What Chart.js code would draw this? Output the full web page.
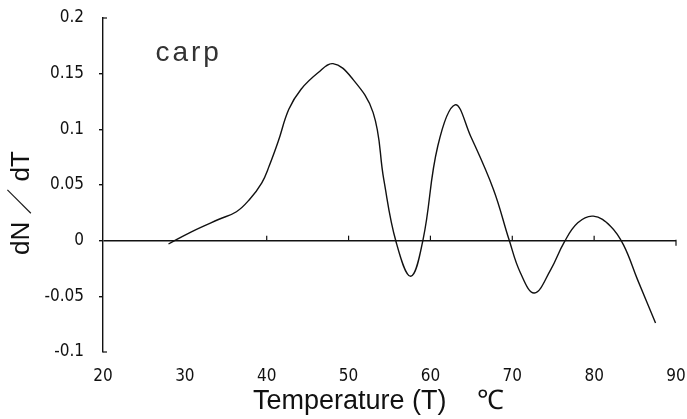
<!DOCTYPE html>
<html>
<head>
<meta charset="utf-8">
<script src="https://cdn.jsdelivr.net/npm/chart.js@4/dist/chart.umd.min.js"></script>
<style>
  html, body { margin: 0; padding: 0; background: #fff; }
  #wrap { width: 687px; height: 419px; }
</style>
</head>
<body>
<div id="wrap"><canvas id="dsc" width="687" height="419"></canvas></div>
<script>
// Temperature (°C) and dN/dT
const temps = [28, 30.8, 34.1, 36.3, 37.9, 39.4, 40.3, 41.4, 42.7, 44.2, 46.3, 48.1, 50.3, 53, 54.3, 55.8, 57.6,
               59.1, 60.9, 63, 64.9, 67.7, 69.6, 71, 72.7, 74.7, 76.3, 78, 79.9, 82, 83.6, 85.3, 87.5];
const dndt  = [-0.003, 0.008, 0.019, 0.026, 0.037, 0.052, 0.067, 0.089, 0.118, 0.136, 0.151, 0.159, 0.147,
               0.115, 0.055, -0.001, -0.032, 0.001, 0.085, 0.122, 0.094, 0.046, 0.001, -0.029, -0.047,
               -0.026, -0.002, 0.016, 0.022, 0.013, -0.004, -0.035, -0.074];
const xTicks = [20, 30, 40, 50, 60, 70, 80, 90];
const yTicks = [-0.1, -0.05, 0, 0.05, 0.1, 0.15, 0.2];
const sampleName = 'carp';

const tickFont = { family: '"Liberation Sans Narrow", "DejaVu Sans Condensed", sans-serif', size: 17 };

// small marks on the zero line, hooks at the ends of the y axis, sample label
const extras = {
    id: 'extras',
    afterDatasetsDraw(chart) {
        const ctx = chart.ctx;
        const xs = chart.scales.x, ys = chart.scales.y;
        const y0 = ys.getPixelForValue(0);
        const xl = xs.getPixelForValue(20);
        ctx.save();
        ctx.strokeStyle = '#111';
        ctx.lineWidth = 1.2;
        xTicks.slice(2, -1).forEach(v => {
            const px = xs.getPixelForValue(v);
            ctx.beginPath();
            ctx.moveTo(px, y0);
            ctx.lineTo(px, y0 - 5);
            ctx.stroke();
        });
        const xe = xs.getPixelForValue(90);
        ctx.beginPath();
        ctx.moveTo(xe, y0 - 1);
        ctx.lineTo(xe, y0 + 5);
        ctx.stroke();
        [yTicks[0], yTicks[yTicks.length - 1]].forEach(v => {
            const py = ys.getPixelForValue(v);
            ctx.beginPath();
            ctx.moveTo(xl, py);
            ctx.lineTo(xl + 4, py);
            ctx.stroke();
        });
        ctx.fillStyle = '#333';
        ctx.font = '28px "Liberation Sans", sans-serif';
        ctx.letterSpacing = '3px';
        ctx.textBaseline = 'alphabetic';
        ctx.fillText(sampleName, xs.getPixelForValue(26.4), ys.getPixelForValue(0.161));
        ctx.restore();
    }
};

new Chart(document.getElementById('dsc'), {
    type: 'line',
    data: {
        datasets: [{
            data: temps.map((t, i) => ({ x: t, y: dndt[i] })),
            borderColor: '#111',
            borderWidth: 1.4,
            pointRadius: 0,
            tension: 0.4,
            fill: false
        }]
    },
    options: {
        responsive: false,
        animation: false,
        layout: { padding: { top: 18, right: 11, left: 4, bottom: 1 } },
        plugins: { legend: { display: false }, tooltip: { enabled: false } },
        scales: {
            x: {
                type: 'linear',
                min: 20, max: 90,
                afterBuildTicks: s => { s.ticks = xTicks.map(v => ({ value: v })); },
                border: { display: false },
                grid: { display: false },
                ticks: { color: '#111', padding: 6, font: tickFont },
                title: {
                    display: true,
                    text: 'Temperature (T)    ℃   ',
                    color: '#111',
                    padding: { top: 0, bottom: 0 },
                    font: { family: '"Liberation Sans", sans-serif', size: 27 }
                },
                afterFit: s => {
                    s.height = 66;
                    s.paddingLeft = s.paddingRight = s.paddingTop = s.paddingBottom = 0;
                }
            },
            y: {
                min: -0.1, max: 0.2,
                afterBuildTicks: s => { s.ticks = yTicks.map(v => ({ value: v })); },
                border: { display: true, color: '#111', width: 1.4 },
                grid: {
                    color: c => (c.tick && c.tick.value === 0) ? '#111' : 'rgba(0,0,0,0)',
                    lineWidth: 1.4,
                    tickColor: c => (c.tick && (c.tick.value === 0.2 || c.tick.value === -0.1)) ? 'rgba(0,0,0,0)' : '#111',
                    tickLength: 4
                },
                ticks: {
                    color: '#111',
                    padding: 15,
                    font: tickFont,
                    callback: v => String(Math.round(v * 100) / 100)
                },
                title: {
                    display: true,
                    text: 'dN ／ dT     ',
                    color: '#111',
                    padding: { top: 2, bottom: 0 },
                    font: { family: '"Liberation Sans", "Noto Sans CJK JP", sans-serif', size: 26 }
                },
                afterFit: s => {
                    s.width = 99;
                    s.paddingLeft = s.paddingRight = s.paddingTop = s.paddingBottom = 0;
                }
            }
        }
    },
    plugins: [extras]
});
</script>
</body>
</html>
